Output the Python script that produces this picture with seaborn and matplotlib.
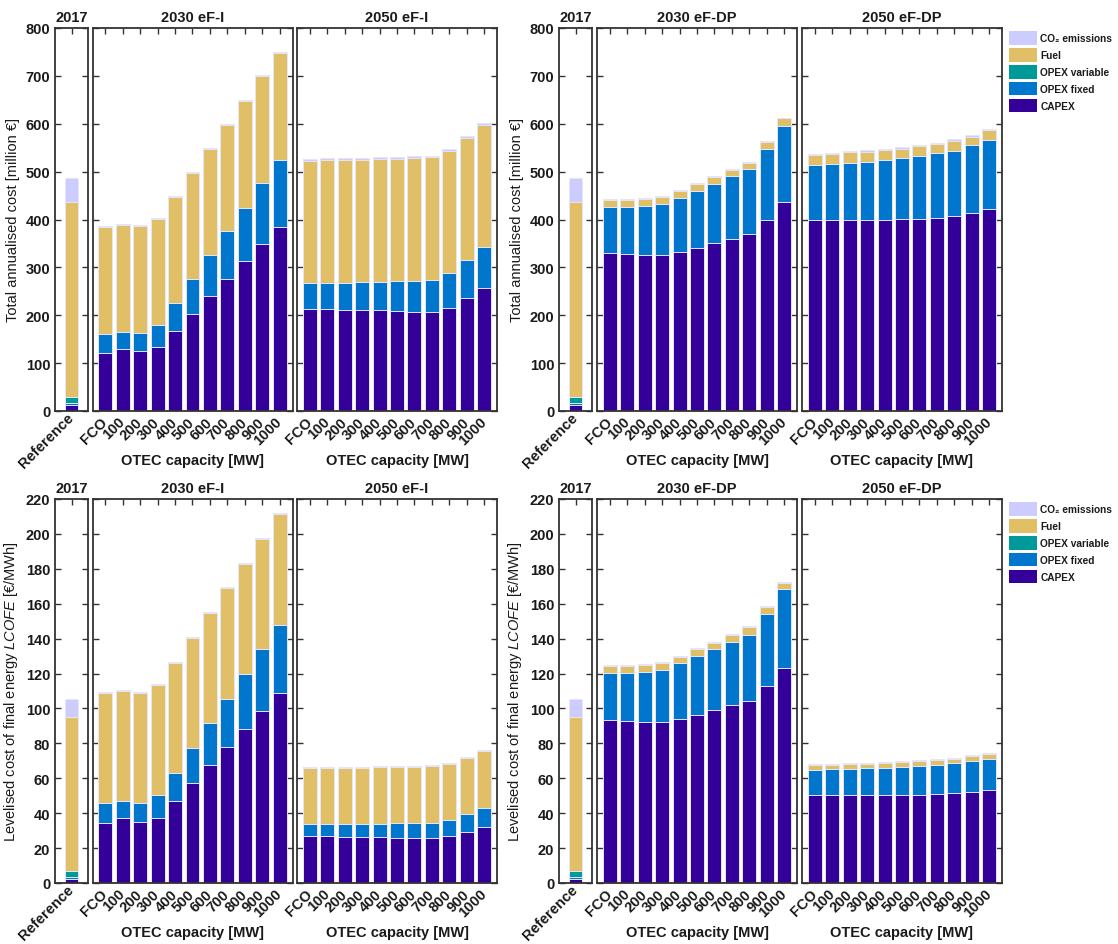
import numpy as np
import matplotlib
matplotlib.use("Agg")
import matplotlib.pyplot as plt
import seaborn as sns
from matplotlib.patches import Patch
from matplotlib import font_manager as fm

# ---------------- data ----------------
categories = ["FCO", "100", "200", "300", "400", "500", "600", "700", "800", "900", "1000"]
ref_category = ["Reference"]
component_names = ["CAPEX", "OPEX fixed", "OPEX variable", "Fuel", "CO₂ emissions"]
component_colors = ["#330099", "#0077CC", "#009999", "#E0BF66", "#CCCCFF"]

# Total annualised cost [million €]  (CAPEX, OPEX fixed, OPEX variable, Fuel, CO2)
cost_ref = [12, 4, 14, 407, 50]

cost_2030_eFI_capex = [122, 130, 125, 133, 167, 202, 240, 276, 313, 349, 385]
cost_2030_eFI_opexf = [39, 36, 38, 47, 58, 73, 85, 99, 112, 127, 140]
cost_2030_eFI_opexv = [0, 0, 0, 0, 0, 0, 0, 0, 0, 0, 0]
cost_2030_eFI_fuel = [224, 223, 224, 222, 223, 223, 223, 223, 223, 223, 223]
cost_2030_eFI_co2 = [2, 2, 2, 2, 2, 2, 2, 2, 2, 2, 2]

cost_2050_eFI_capex = [214, 213, 212, 210, 210, 208, 207, 206, 216, 235, 256]
cost_2050_eFI_opexf = [53, 55, 56, 59, 60, 64, 65, 68, 72, 80, 86]
cost_2050_eFI_opexv = [0, 0, 0, 0, 0, 0, 0, 0, 0, 0, 0]
cost_2050_eFI_fuel = [256, 257, 257, 256, 257, 255, 257, 256, 256, 256, 256]
cost_2050_eFI_co2 = [3, 3, 3, 3, 3, 3, 3, 3, 3, 3, 3]

cost_2030_eFDP_capex = [330, 328, 326, 326, 332, 341, 351, 360, 369, 400, 437]
cost_2030_eFDP_opexf = [96, 98, 102, 107, 113, 119, 124, 130, 136, 147, 159]
cost_2030_eFDP_opexv = [0, 0, 0, 0, 0, 0, 0, 0, 0, 0, 0]
cost_2030_eFDP_fuel = [14, 14, 15, 14, 14, 15, 14, 14, 13, 14, 15]
cost_2030_eFDP_co2 = [2, 2, 2, 2, 2, 2, 2, 2, 2, 2, 2]

cost_2050_eFDP_capex = [399, 399, 399, 399, 400, 401, 402, 404, 407, 414, 421]
cost_2050_eFDP_opexf = [115, 117, 119, 122, 125, 128, 131, 134, 137, 141, 145]
cost_2050_eFDP_opexv = [0, 0, 0, 0, 0, 0, 0, 0, 0, 0, 0]
cost_2050_eFDP_fuel = [21, 21, 22, 21, 20, 19, 20, 20, 21, 18, 20]
cost_2050_eFDP_co2 = [2.5, 2.5, 2.5, 2.5, 2.5, 2.5, 2.5, 2.5, 2.5, 2.5, 2.5]

# Levelised cost of final energy LCOFE [€/MWh]
lcofe_ref = [2.3, 1.0, 3.6, 88.0, 10.8]

lcofe_2030_eFI_capex = [34.5, 37.0, 35.2, 37.3, 47.0, 57.1, 67.6, 77.9, 88.2, 98.7, 108.7]
lcofe_2030_eFI_opexf = [11.2, 9.9, 10.7, 13.2, 16.2, 20.2, 23.8, 27.8, 31.6, 35.2, 39.3]
lcofe_2030_eFI_opexv = [0, 0, 0, 0, 0, 0, 0, 0, 0, 0, 0]
lcofe_2030_eFI_fuel = [63.3, 63.2, 63.2, 62.8, 63.1, 62.9, 63.1, 63.3, 63.2, 63.1, 63.4]
lcofe_2030_eFI_co2 = [0.5, 0.5, 0.5, 0.5, 0.5, 0.5, 0.5, 0.5, 0.5, 0.5, 0.5]

lcofe_2050_eFI_capex = [27.0, 26.8, 26.5, 26.5, 26.3, 26.0, 25.9, 25.9, 27.0, 29.5, 32.2]
lcofe_2050_eFI_opexf = [6.7, 6.9, 7.2, 7.4, 7.7, 8.3, 8.6, 8.6, 9.0, 10.1, 10.8]
lcofe_2050_eFI_opexv = [0, 0, 0, 0, 0, 0, 0, 0, 0, 0, 0]
lcofe_2050_eFI_fuel = [32.2, 32.2, 32.3, 32.1, 32.5, 32.4, 32.2, 32.4, 32.4, 32.2, 32.4]
lcofe_2050_eFI_co2 = [0.6, 0.6, 0.6, 0.6, 0.6, 0.6, 0.6, 0.6, 0.6, 0.6, 0.6]

lcofe_2030_eFDP_capex = [93.5, 93.0, 92.2, 92.2, 94.1, 96.4, 99.0, 101.7, 104.4, 112.8, 123.0]
lcofe_2030_eFDP_opexf = [26.9, 27.4, 28.8, 30.1, 31.8, 33.5, 34.9, 36.4, 37.9, 41.3, 45.2]
lcofe_2030_eFDP_opexv = [0, 0, 0, 0, 0, 0, 0, 0, 0, 0, 0]
lcofe_2030_eFDP_fuel = [4.0, 4.0, 4.0, 4.0, 3.8, 4.0, 3.8, 3.9, 4.2, 3.9, 3.8]
lcofe_2030_eFDP_co2 = [0.6, 0.6, 0.6, 0.6, 0.6, 0.6, 0.6, 0.6, 0.6, 0.6, 0.6]

lcofe_2050_eFDP_capex = [50.5, 50.5, 50.5, 50.5, 50.5, 50.7, 50.7, 51.0, 51.4, 52.2, 53.0]
lcofe_2050_eFDP_opexf = [14.3, 14.6, 14.8, 15.2, 15.6, 16.0, 16.5, 16.8, 17.4, 17.7, 18.2]
lcofe_2050_eFDP_opexv = [0, 0, 0, 0, 0, 0, 0, 0, 0, 0, 0]
lcofe_2050_eFDP_fuel = [2.6, 2.7, 2.7, 2.7, 2.7, 2.6, 2.7, 2.7, 2.4, 2.7, 2.7]
lcofe_2050_eFDP_co2 = [0.5, 0.5, 0.5, 0.5, 0.5, 0.5, 0.5, 0.5, 0.5, 0.5, 0.5]

panel_titles = ["2017", "2030 eF-I", "2050 eF-I", "2030 eF-DP", "2050 eF-DP"]
cost_ticks = [0, 100, 200, 300, 400, 500, 600, 700, 800]
lcofe_ticks = [0, 20, 40, 60, 80, 100, 120, 140, 160, 180, 200, 220]
xlabel_text = "OTEC capacity [MW]"
ylabel_cost = "Total annualised cost [million €]"
ylabel_lcofe = "Levelised cost of final energy $\\it{LCOFE}$ [€/MWh]"

# ---------------- style ----------------
sns.set_theme(style="white")
avail = {f.name for f in fm.fontManager.ttflist}
base_font = "Liberation Sans" if "Liberation Sans" in avail else "DejaVu Sans"
plt.rcParams["font.family"] = [base_font, "DejaVu Sans"]
plt.rcParams["mathtext.fontset"] = "custom"
plt.rcParams["mathtext.it"] = base_font + ":italic"
plt.rcParams["mathtext.rm"] = base_font

TEXT = "#1a1a1a"
SPINE = "#333333"
W, H = 1118, 945
fig = plt.figure(figsize=(W / 100, H / 100), dpi=100)


def px_axes(x0, x1, ytop, ybot):
    return fig.add_axes([x0 / W, 1 - ybot / H, (x1 - x0) / W, (ybot - ytop) / H])


def draw_panel(ax, cats, comps):
    tops = np.cumsum(np.array(comps, dtype=float), axis=0)
    for i in range(len(comps) - 1, -1, -1):
        sns.barplot(x=cats, y=list(tops[i]), order=cats, color=component_colors[i],
                    saturation=1, width=0.8, errorbar=None,
                    edgecolor="#E6E6FA", linewidth=0.7, ax=ax)


def style_axes(ax, cats, yticks, ylim, first, title):
    n = len(cats)
    if n == 1:
        ax.set_xlim(-0.95, 0.95)
    else:
        ax.set_xlim(-0.74, n - 1 + 0.74)
    ax.set_ylim(*ylim)
    ax.set_yticks(yticks)
    ax.set_xticks(range(n))
    ax.set_xticklabels(cats, rotation=45, ha="right", va="center",
                       rotation_mode="anchor", fontweight="bold",
                       fontsize=9.5 if n > 1 else 9.2, color=TEXT)
    ax.tick_params(axis="both", direction="in", length=4, width=1.0, color=SPINE,
                   top=True, right=True, bottom=True, left=True,
                   labelleft=first, labelsize=10.5)
    ax.tick_params(axis="x", pad=6 if n > 1 else 3)
    for lab in ax.get_yticklabels():
        lab.set_fontweight("bold")
        lab.set_color(TEXT)
    for s in ax.spines.values():
        s.set_visible(True)
        s.set_color(SPINE)
        s.set_linewidth(1.3)
    ax.set_title(title, fontsize=10.5, fontweight="bold", color=TEXT, pad=5)
    ax.set_xlabel("")
    ax.set_ylabel("")
    ax.grid(False)


rows = [
    dict(ytop=29, ybot=412, ref=cost_ref, ticks=cost_ticks, ylim=(0, 800), ylabel=ylabel_cost,
         groups=[
             [cost_2030_eFI_capex, cost_2030_eFI_opexf, cost_2030_eFI_opexv, cost_2030_eFI_fuel, cost_2030_eFI_co2],
             [cost_2050_eFI_capex, cost_2050_eFI_opexf, cost_2050_eFI_opexv, cost_2050_eFI_fuel, cost_2050_eFI_co2],
             [cost_2030_eFDP_capex, cost_2030_eFDP_opexf, cost_2030_eFDP_opexv, cost_2030_eFDP_fuel, cost_2030_eFDP_co2],
             [cost_2050_eFDP_capex, cost_2050_eFDP_opexf, cost_2050_eFDP_opexv, cost_2050_eFDP_fuel, cost_2050_eFDP_co2],
         ]),
    dict(ytop=500, ybot=884, ref=lcofe_ref, ticks=lcofe_ticks, ylim=(0, 220), ylabel=ylabel_lcofe,
         groups=[
             [lcofe_2030_eFI_capex, lcofe_2030_eFI_opexf, lcofe_2030_eFI_opexv, lcofe_2030_eFI_fuel, lcofe_2030_eFI_co2],
             [lcofe_2050_eFI_capex, lcofe_2050_eFI_opexf, lcofe_2050_eFI_opexv, lcofe_2050_eFI_fuel, lcofe_2050_eFI_co2],
             [lcofe_2030_eFDP_capex, lcofe_2030_eFDP_opexf, lcofe_2030_eFDP_opexv, lcofe_2030_eFDP_fuel, lcofe_2030_eFDP_co2],
             [lcofe_2050_eFDP_capex, lcofe_2050_eFDP_opexf, lcofe_2050_eFDP_opexv, lcofe_2050_eFDP_fuel, lcofe_2050_eFDP_co2],
         ]),
]

# (ref x0, ref x1, panelA x0, x1, panelB x0, x1, group index)
blocks = [
    (55, 88, 92.5, 292.5, 297, 497, 0),
    (559, 592, 597, 797, 802, 1002, 2),
]

for row in rows:
    for (r0, r1, a0, a1, b0, b1, gi) in blocks:
        ax_ref = px_axes(r0, r1, row["ytop"], row["ybot"])
        draw_panel(ax_ref, ref_category, [[v] for v in row["ref"]])
        style_axes(ax_ref, ref_category, row["ticks"], row["ylim"], True, panel_titles[0])
        ax_ref.set_ylabel(row["ylabel"], fontsize=10.5, color=TEXT, labelpad=4)

        for k, (x0, x1) in enumerate([(a0, a1), (b0, b1)]):
            ax = px_axes(x0, x1, row["ytop"], row["ybot"])
            draw_panel(ax, categories, row["groups"][gi + k])
            style_axes(ax, categories, row["ticks"], row["ylim"], False, panel_titles[1 + gi + k])
            ax.set_xlabel(xlabel_text, fontsize=10.5, fontweight="bold", color=TEXT, labelpad=4)

# legends
handles = [Patch(facecolor=component_colors[i], edgecolor="none", label=component_names[i])
           for i in range(len(component_names) - 1, -1, -1)]
for ytop in (32, 503):
    leg = fig.legend(handles=handles, loc="upper left",
                     bbox_to_anchor=(1009 / W, 1 - ytop / H), frameon=False,
                     prop={"size": 7.3, "weight": "bold"}, handlelength=2.8, handleheight=1.7,
                     labelspacing=0.32, handletextpad=0.3, borderpad=0, borderaxespad=0)
    for t in leg.get_texts():
        t.set_color(TEXT)

fig.savefig("out.png", dpi=100)
